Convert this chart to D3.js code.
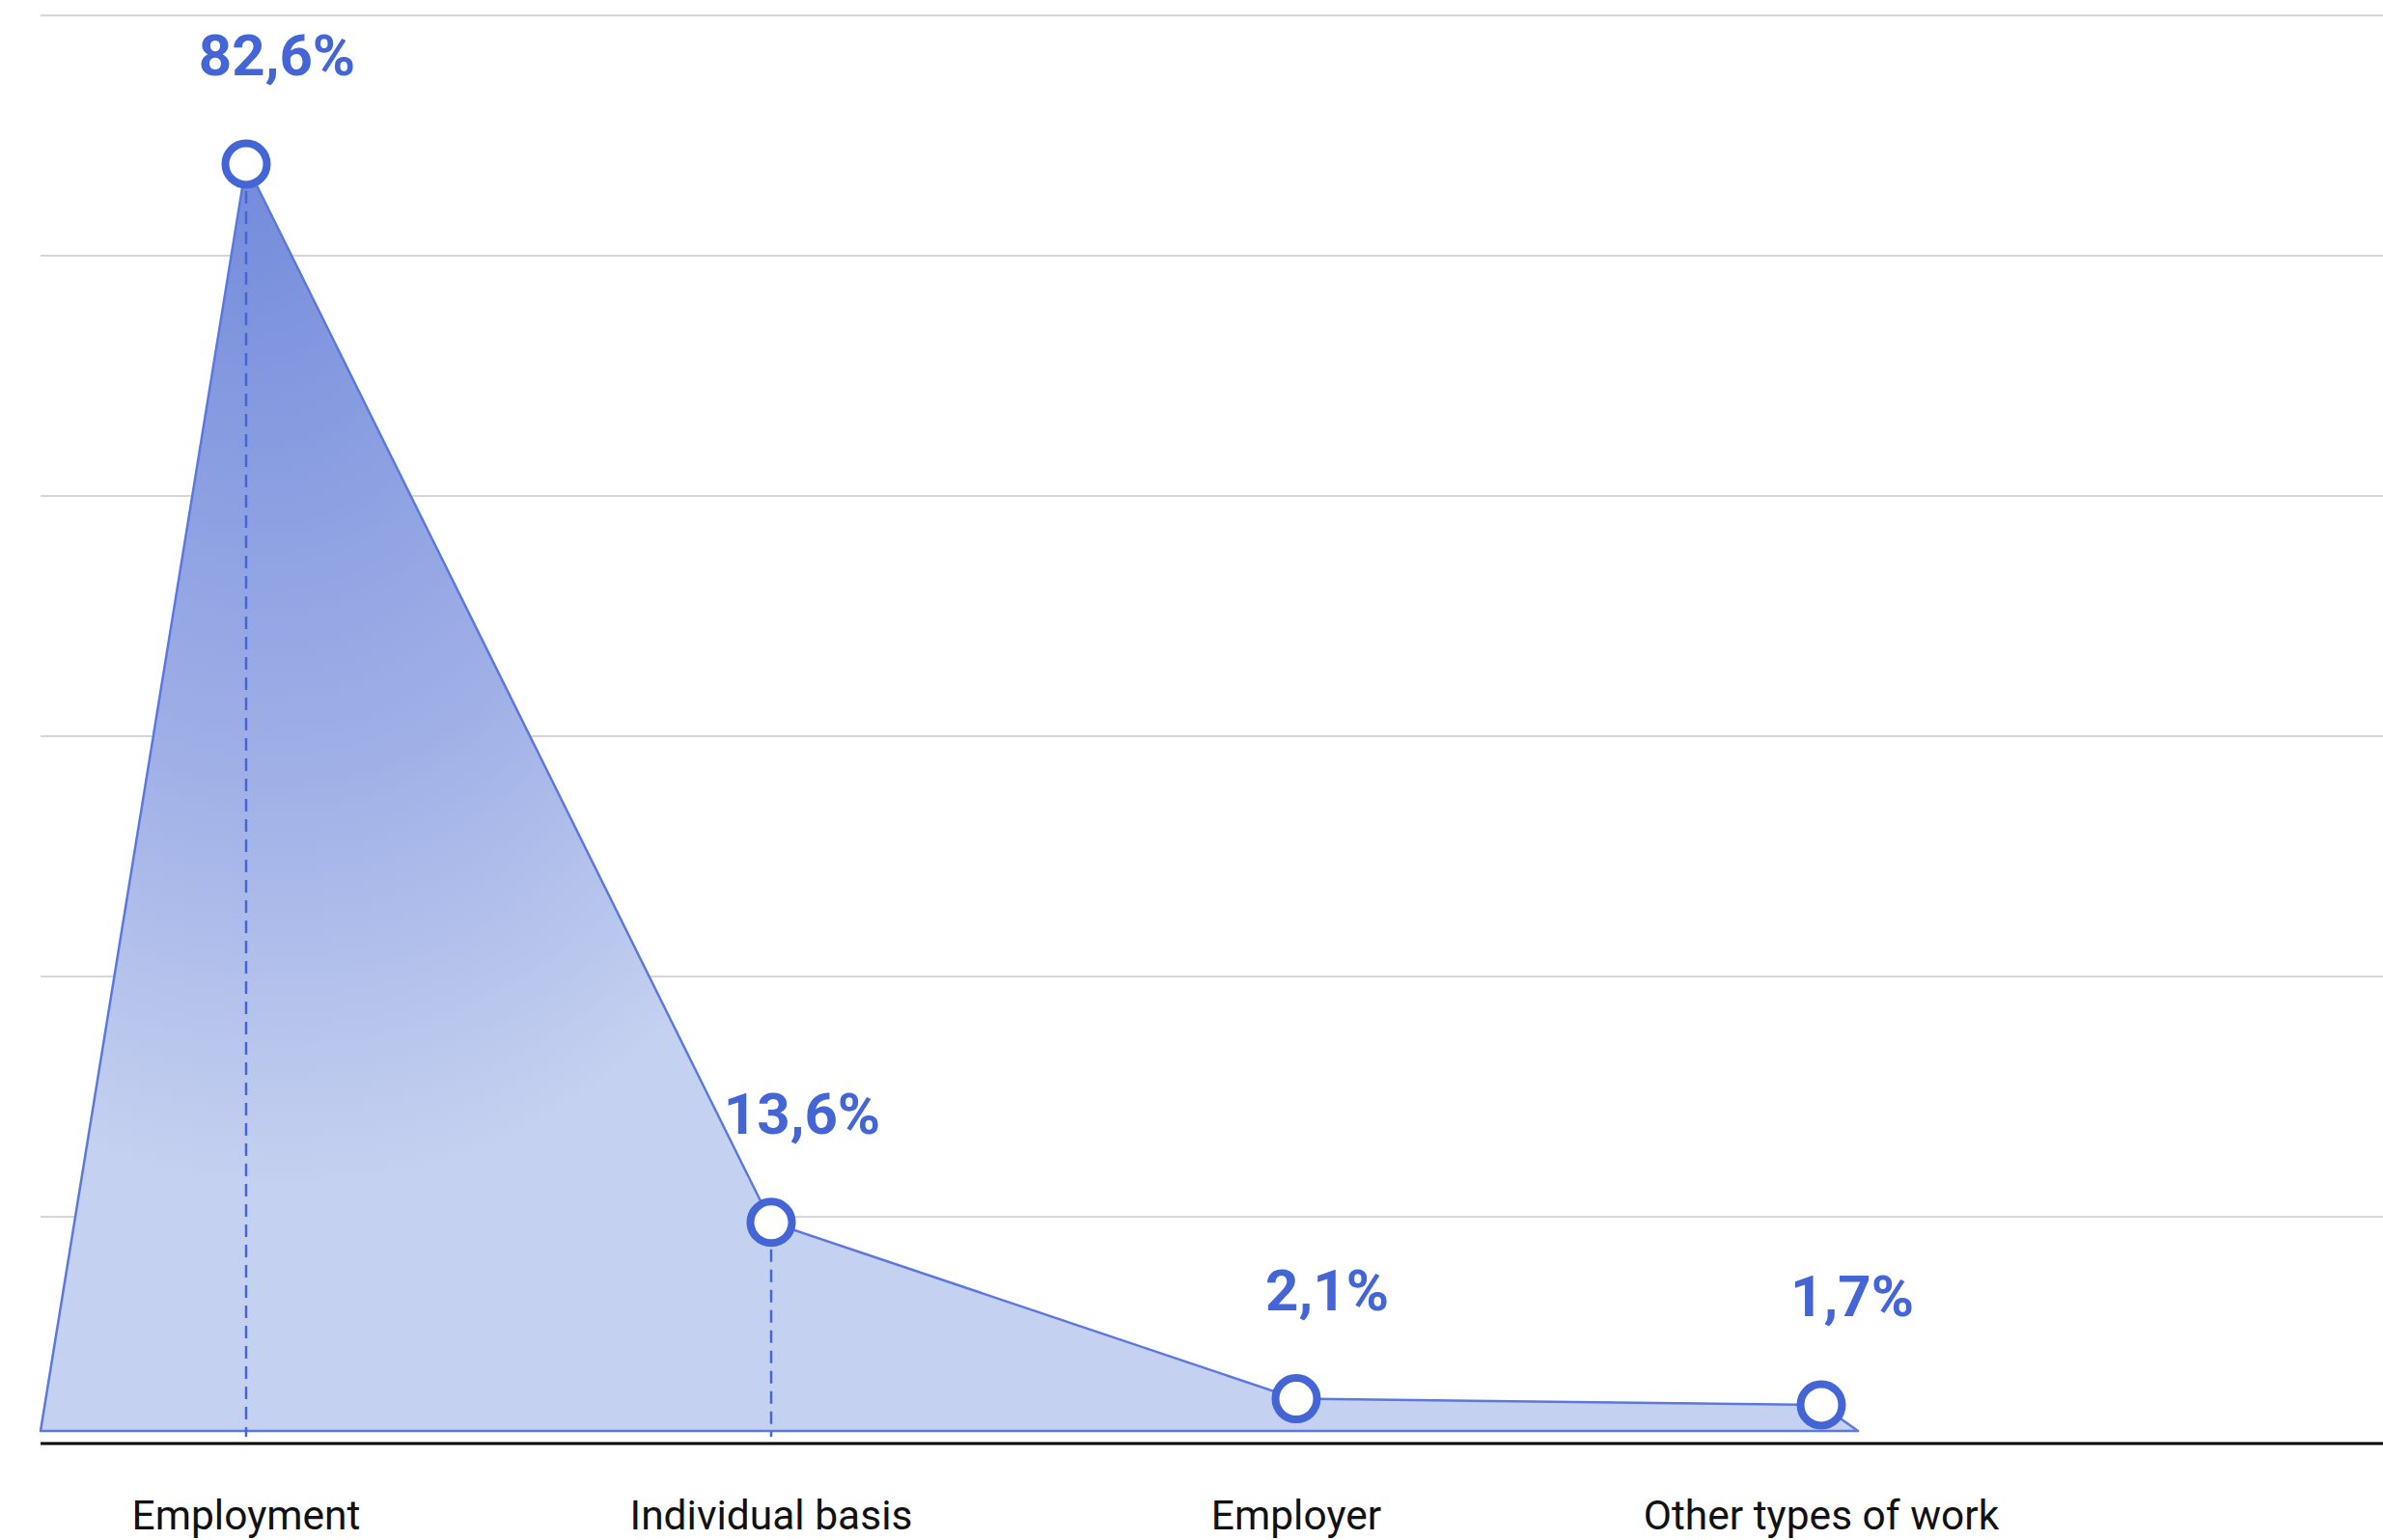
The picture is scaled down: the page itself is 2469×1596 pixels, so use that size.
<!DOCTYPE html>
<html>
<head>
<meta charset="utf-8">
<script src="https://cdn.jsdelivr.net/npm/d3@7"></script>
<style>
  html, body { margin: 0; padding: 0; background: #fff; }
  svg { display: block; font-family: Roboto, "Noto Sans", sans-serif; }
</style>
</head>
<body>
<div id="chart"></div>
<script>
// data
const categories = ["Employment", "Individual basis", "Employer", "Other types of work"];
const shares = [82.6, 13.6, 2.1, 1.7];
const shareLabels = ["82,6%", "13,6%", "2,1%", "1,7%"];
const gridLevels = [1, 2, 3, 4, 5, 6];

document.addEventListener("DOMContentLoaded", function () {
    const width = 2469, height = 1596;
    const margin = {left: 42, right: 0};
    const baseY = 1483, axisY = 1496;
    const blue = "#4465d5";

    const svg = d3.select("#chart").append("svg")
        .attr("width", width)
        .attr("height", height);

    const xScale = d3.scalePoint()
        .domain(categories)
        .range([255, 1887]);

    const yScale = d3.scaleLinear()
        .domain([0, 82.6])
        .range([baseY, 170]);

    // decorative horizontal grid
    const gridScale = d3.scaleLinear()
        .domain([0, 6])
        .range([1510, 16]);

    svg.append("g")
        .selectAll("line")
        .data(gridLevels)
        .enter().append("line")
        .attr("x1", margin.left)
        .attr("x2", width)
        .attr("y1", d => gridScale(d))
        .attr("y2", d => gridScale(d))
        .style("stroke", "#c8c8c8")
        .style("stroke-width", 1.5);

    // radial shading of the area
    const defs = svg.append("defs");
    const grad = defs.append("radialGradient")
        .attr("id", "areaGrad")
        .attr("gradientUnits", "userSpaceOnUse")
        .attr("cx", 300).attr("cy", 670).attr("r", 560)
        .attr("fx", 255).attr("fy", 170);
    grad.append("stop").attr("offset", "0%").attr("stop-color", "#738bdb");
    grad.append("stop").attr("offset", "60%").attr("stop-color", "#a0b0e7");
    grad.append("stop").attr("offset", "100%").attr("stop-color", "#c5d1f0");

    const step = xScale.step();
    const pts = [{x: margin.left, v: 0}]
        .concat(categories.map((c, i) => ({x: xScale(c), v: shares[i]})))
        .concat([{x: xScale(categories[categories.length - 1]) + step * 0.07, v: 0}]);

    const area = d3.area()
        .x(d => d.x)
        .y0(baseY)
        .y1(d => yScale(d.v));

    svg.append("path")
        .datum(pts)
        .attr("d", area)
        .style("fill", "url(#areaGrad)")
        .style("stroke", "#5b78de")
        .style("stroke-width", 2.5)
        .style("stroke-linejoin", "round");

    // x axis line
    svg.append("line")
        .attr("x1", margin.left)
        .attr("x2", width)
        .attr("y1", axisY)
        .attr("y2", axisY)
        .style("stroke", "#000")
        .style("stroke-width", 3);

    const points = categories.map((c, i) => ({cat: c, v: shares[i], label: shareLabels[i]}));

    // dashed drop lines for the larger values
    svg.append("g")
        .selectAll("line")
        .data(points.filter(d => d.v > 5))
        .enter().append("line")
        .attr("x1", d => xScale(d.cat))
        .attr("x2", d => xScale(d.cat))
        .attr("y1", d => yScale(d.v) + 28)
        .attr("y2", baseY + 6)
        .style("stroke", blue)
        .style("stroke-width", 2.5)
        .style("stroke-dasharray", "13,8");

    svg.append("g")
        .selectAll("circle")
        .data(points)
        .enter().append("circle")
        .attr("cx", d => xScale(d.cat))
        .attr("cy", d => yScale(d.v))
        .attr("r", 21.5)
        .style("fill", "#fff")
        .style("stroke", blue)
        .style("stroke-width", 8);

    svg.append("g")
        .selectAll("text")
        .data(points)
        .enter().append("text")
        .attr("x", d => xScale(d.cat) + 32)
        .attr("y", d => yScale(d.v) - 92)
        .attr("text-anchor", "middle")
        .style("font-size", "60px")
        .style("font-weight", "bold")
        .style("fill", blue)
        .text(d => d.label);

    // category labels
    svg.append("g")
        .selectAll("text")
        .data(categories)
        .enter().append("text")
        .attr("x", d => xScale(d))
        .attr("y", 1585)
        .attr("text-anchor", "middle")
        .style("font-size", "42.5px")
        .style("fill", "#111")
        .text(d => d);
});
</script>
</body>
</html>
